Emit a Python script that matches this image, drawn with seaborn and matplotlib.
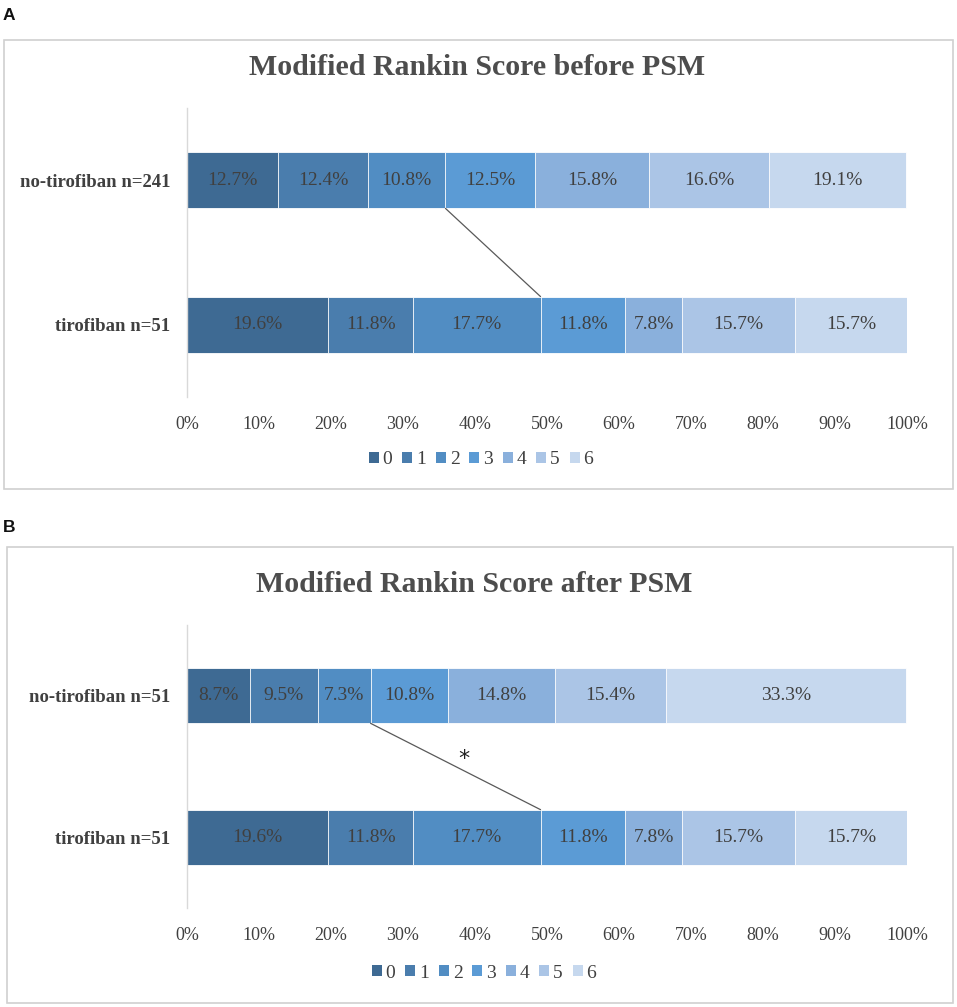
import numpy as np
import pandas as pd
import matplotlib
matplotlib.use("Agg")
import matplotlib.pyplot as plt
from matplotlib.patches import Patch, Rectangle
import seaborn as sns

# ---------------- data ----------------
scores = ["0", "1", "2", "3", "4", "5", "6"]
groups_a = ["no-tirofiban n=241", "tirofiban n=51"]
no_tirofiban_before = [12.7, 12.4, 10.8, 12.5, 15.8, 16.6, 19.1]
tirofiban_before = [19.6, 11.8, 17.7, 11.8, 7.8, 15.7, 15.7]
groups_b = ["no-tirofiban n=51", "tirofiban n=51"]
no_tirofiban_after = [8.7, 9.5, 7.3, 10.8, 14.8, 15.4, 33.3]
tirofiban_after = [19.6, 11.8, 17.7, 11.8, 7.8, 15.7, 15.7]
title_a = "Modified Rankin Score before PSM"
title_b = "Modified Rankin Score after PSM"
xticks = list(range(0, 101, 10))
colors = ["#3E6A93", "#4A7DAD", "#518DC3", "#5B9BD5", "#8AB0DC", "#ABC5E6", "#C6D8EE"]

sns.set_theme(style="white")
plt.rcParams["font.family"] = ["Liberation Serif", "DejaVu Serif"]

W, H = 957, 1007
fig = plt.figure(figsize=(W / 100, H / 100), dpi=100)


def rect(x0, y0, x1, y1):
    return [x0 / W, 1 - y1 / H, (x1 - x0) / W, (y1 - y0) / H]


BAR_H = 0.39


def panel(ax, groups, rows, title, title_xy, legend_xy, box, letter_xy, letter, star=None):
    df = pd.DataFrame({"group": groups})
    vals = np.array(rows)
    cums = np.cumsum(vals, axis=1)
    for k in range(len(scores) - 1, -1, -1):
        df["cum"] = cums[:, k]
        sns.barplot(data=df, x="cum", y="group", order=groups, orient="h",
                    color=colors[k], saturation=1, width=BAR_H, ax=ax,
                    edgecolor="white", linewidth=0.6)
    # value labels
    for i in range(len(groups)):
        prev = 0.0
        for k, v in enumerate(vals[i]):
            ax.text(prev + v / 2, i, f"{v:.1f}%", ha="center", va="center",
                    fontsize=14, color="#404040")
            prev += v
    # connector line (end of score 0-2)
    x0 = cums[0, 2]
    x1 = cums[1, 2]
    ax.plot([x0, x1], [0 + BAR_H / 2, 1 - BAR_H / 2], color="#595959", lw=0.9)
    if star is not None:
        ax.text(star[0], star[1], "*", ha="center", va="center", fontsize=16,
                color="#202020", family=["DejaVu Sans"])
    ax.set_xlim(0, 100)
    ax.set_ylim(1.5, -0.5)
    ax.set_xticks(xticks)
    ax.set_xticklabels([f"{t}%" for t in xticks], fontsize=13, color="#404040")
    ax.set_yticks([0, 1])
    ax.set_yticklabels(groups, fontsize=13.5, fontweight="bold", color="#404040")
    ax.tick_params(axis="x", length=0, pad=14)
    ax.tick_params(axis="y", length=0, pad=12)
    ax.set_xlabel("")
    ax.set_ylabel("")
    for s in ["top", "right", "bottom"]:
        ax.spines[s].set_visible(False)
    ax.spines["left"].set_color("#d9d9d9")
    ax.spines["left"].set_linewidth(1.0)
    ax.set_facecolor("none")

    fig.text(title_xy[0] / W, 1 - title_xy[1] / H, title, ha="center", va="baseline",
             fontsize=21.5, fontweight="bold", color="#4d4d4d")
    handles = [Patch(facecolor=c, edgecolor="none") for c in colors]
    fig.legend(handles, scores, loc="center", ncol=7, frameon=False,
               bbox_to_anchor=(legend_xy[0] / W, 1 - legend_xy[1] / H),
               fontsize=14, handlelength=0.52, handleheight=0.52,
               handletextpad=0.2, columnspacing=0.5, labelcolor="#404040")
    bx0, by0, bx1, by1 = box
    fig.patches.append(Rectangle((bx0 / W, 1 - by1 / H), (bx1 - bx0) / W, (by1 - by0) / H,
                                 transform=fig.transFigure, fill=False,
                                 edgecolor="#d0d0d0", lw=1.2))
    fig.text(letter_xy[0] / W, 1 - letter_xy[1] / H, letter, ha="left", va="center",
             fontsize=12.5, fontweight="bold", family=["Liberation Sans", "DejaVu Sans"],
             color="#111111")


ax_a = fig.add_axes(rect(187, 108, 907, 397))
panel(ax_a, groups_a, [no_tirofiban_before, tirofiban_before], title_a,
      (477, 75), (481, 460), (4, 40, 953, 489), (3, 15), "A")

ax_b = fig.add_axes(rect(187, 625, 907, 908))
panel(ax_b, groups_b, [no_tirofiban_after, tirofiban_after], title_b,
      (474, 592), (484, 973), (7, 547, 953, 1003), (3, 527), "B",
      star=(38.5, 0.45))

fig.savefig("out.png", dpi=100, facecolor="white")
